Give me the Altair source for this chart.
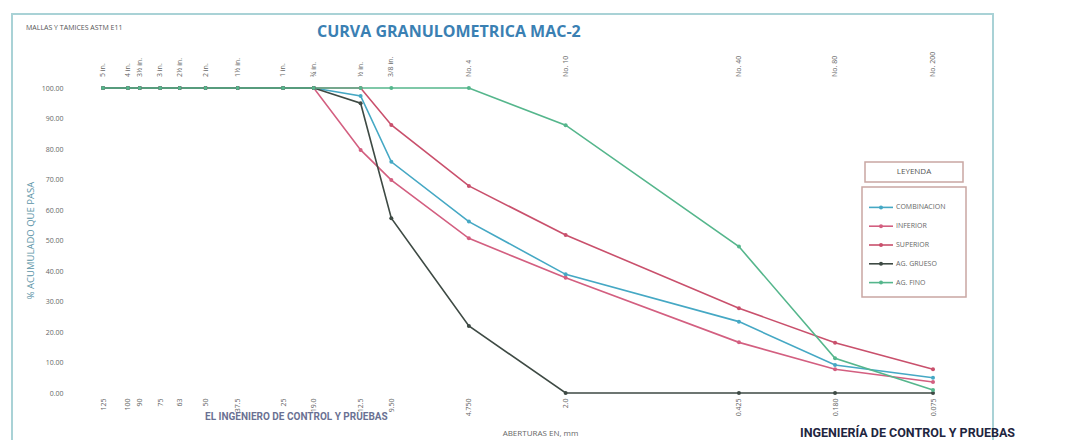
import json
import altair as alt
import pandas as pd

# ---------------- data ----------------
sizes_mm = [125, 100, 90, 75, 63, 50, 37.5, 25, 19, 12.5, 9.5, 4.75, 2.0, 0.425, 0.18, 0.075]
sieve_names = ["5 in.", "4 in.", "3½ in.", "3 in.", "2½ in.", "2 in.", "1½ in.", "1 in.",
               "¾ in.", "½ in.", "3/8 in.", "No. 4", "No. 10", "No. 40", "No. 80", "No. 200"]
size_labels = ["125", "100", "90", "75", "63", "50", "37.5", "25", "19.0", "12.5", "9.50",
               "4.750", "2.0", "0.425", "0.180", "0.075"]

series_names = ["COMBINACION", "INFERIOR", "SUPERIOR", "AG. GRUESO", "AG. FINO"]
series_colors = ["#45a8c4", "#d35f80", "#c9506c", "#3e4a44", "#55b68c"]

combinacion = [100, 100, 100, 100, 100, 100, 100, 100, 100, 97.4, 75.8, 56.2, 38.9, 23.4, 9.2, 5.0]
inferior = [100, 100, 100, 100, 100, 100, 100, 100, 100, 79.7, 69.8, 50.7, 37.8, 16.6, 7.8, 3.6]
superior = [100, 100, 100, 100, 100, 100, 100, 100, 100, 100, 87.9, 67.9, 51.8, 27.8, 16.5, 7.8]
ag_grueso = [100, 100, 100, 100, 100, 100, 100, 100, 100, 95.0, 57.3, 22.0, 0, 0, 0, 0]
ag_fino = [100, 100, 100, 100, 100, 100, 100, 100, 100, 100, 100, 100, 87.8, 48.0, 11.4, 1.0]

y_ticks = [0, 10, 20, 30, 40, 50, 60, 70, 80, 90, 100]

chart_title = "CURVA GRANULOMETRICA MAC-2"
header_text = "MALLAS Y TAMICES ASTM E11"
stamp_texts = ["EL INGENIERO DE CONTROL Y PRUEBAS", "INGENIERÍA DE CONTROL Y PRUEBAS"]

all_series = [combinacion, inferior, superior, ag_grueso, ag_fino]
rows = []
for name, vals in zip(series_names, all_series):
    for s, v in zip(sizes_mm, vals):
        rows.append({"serie": name, "abertura": s, "pasa": v})
df = pd.DataFrame(rows)

sieves_df = pd.DataFrame({"abertura": sizes_mm, "tamiz": sieve_names})
legend_df = pd.DataFrame({"serie": series_names})

FONT = "Open Sans"
W, H = 830, 305

x_scale = alt.Scale(type="log", domain=[0.075, 125], reverse=True, nice=False, zero=False)
color_scale = alt.Scale(domain=series_names, range=series_colors)

label_expr = "{}[indexof({}, datum.value)]".format(json.dumps(size_labels), json.dumps(sizes_mm))


def text_layer(txt, **kw):
    enc = {k: kw.pop(k) for k in ["x", "y"]}
    return alt.Chart(pd.DataFrame({"t": [txt]})).mark_text(**kw).encode(text="t:N", **enc)


# frame
frame = alt.Chart(pd.DataFrame({"k": [0]})).mark_rect(
    fill="white", fillOpacity=0, stroke="#a9d2d6", strokeWidth=2
).encode(x=alt.value(-91), x2=alt.value(890), y=alt.value(-74), y2=alt.value(362))

lines = alt.Chart(df).mark_line(
    strokeWidth=1.6, point=alt.OverlayMarkDef(filled=True, size=16)
).encode(
    x=alt.X("abertura:Q", scale=x_scale,
            axis=alt.Axis(values=sizes_mm, labelExpr=label_expr, labelAngle=270,
                          labelOverlap=False, labelFlush=False, labelBound=False,
                          ticks=False, domain=False, grid=False, labelPadding=5,
                          labelFontSize=7, labelColor="#666", labelFont=FONT,
                          title="ABERTURAS EN, mm", titleFont=FONT, titleFontSize=8,
                          titleFontWeight="normal", titleColor="#666",
                          titleX=437, titleY=40, titleAlign="center", titleBaseline="middle")),
    y=alt.Y("pasa:Q", scale=alt.Scale(domain=[0, 100], nice=False, zero=True),
            axis=alt.Axis(values=y_ticks, format=".2f", ticks=False, domain=False, grid=False,
                          labelPadding=40, labelFontSize=7, labelColor="#666", labelFont=FONT,
                          title="% ACUMULADO QUE PASA", titleFont=FONT, titleFontSize=9.5,
                          titleFontWeight="normal", titleColor="#5a93a6", titleAngle=270,
                          titleX=-73, titleY=152, titleAlign="center", titleBaseline="middle")),
    color=alt.Color("serie:N", scale=color_scale, legend=None),
    order=alt.Order("abertura:Q"),
)

top_labels = alt.Chart(sieves_df).mark_text(
    angle=270, align="left", baseline="middle", fontSize=7, color="#666", font=FONT
).encode(x=alt.X("abertura:Q", scale=x_scale), y=alt.value(-11), text="tamiz:N")

title_mark = text_layer(chart_title, x=alt.value(214), y=alt.value(-56), align="left",
                        baseline="middle", fontSize=16, font=FONT, fontWeight="bold",
                        color="#3a80b3")
header = text_layer(header_text, x=alt.value(-77), y=alt.value(-60), align="left",
                    baseline="middle", fontSize=7, color="#555", font=FONT)

ley_box = alt.Chart(pd.DataFrame({"k": [0]})).mark_rect(
    fill="white", stroke="#c9a7a3", strokeWidth=1.5
).encode(x=alt.value(762), x2=alt.value(860), y=alt.value(74), y2=alt.value(94))
ley_text = text_layer("LEYENDA", x=alt.value(811), y=alt.value(84), align="center",
                      baseline="middle", fontSize=8, color="#555", font=FONT)
leg_box = alt.Chart(pd.DataFrame({"k": [0]})).mark_rect(
    fill="white", stroke="#c9a7a3", strokeWidth=1.5
).encode(x=alt.value(759), x2=alt.value(863), y=alt.value(99), y2=alt.value(209))

leg_y = alt.Y("serie:N", scale=alt.Scale(domain=series_names, range=[110, 204]), axis=None)
leg_rule = alt.Chart(legend_df).mark_rule(strokeWidth=1.6).encode(
    x=alt.value(766), x2=alt.value(790), y=leg_y,
    color=alt.Color("serie:N", scale=color_scale, legend=None))
leg_pt = alt.Chart(legend_df).mark_point(filled=True, size=16, opacity=1).encode(
    x=alt.value(778), y=leg_y,
    color=alt.Color("serie:N", scale=color_scale, legend=None))
leg_txt = alt.Chart(legend_df).mark_text(
    align="left", baseline="middle", fontSize=7, color="#666", font=FONT
).encode(x=alt.value(793), y=leg_y, text="serie:N")

stamp_l = text_layer(stamp_texts[0], x=alt.value(102), y=alt.value(329), align="left",
                     baseline="middle", fontSize=10, color="#2b3566", font="Roboto",
                     fontWeight="bold", opacity=0.7)
stamp_r = text_layer(stamp_texts[1], x=alt.value(697), y=alt.value(345), align="left",
                     baseline="middle", fontSize=12.5, color="#1f2640", font="Roboto",
                     fontWeight="bold")

chart = alt.layer(
    frame, lines, top_labels, title_mark, header, ley_box, ley_text, leg_box,
    leg_rule, leg_pt, leg_txt, stamp_l, stamp_r
).resolve_scale(y="independent").properties(
    width=W, height=H,
    autosize=alt.AutoSizeParams(type="none"),
    padding={"left": 95, "top": 80, "right": 137, "bottom": 47},
).configure_view(stroke=None)

chart.save("out.html", embed_options={"renderer": "svg", "actions": False})
